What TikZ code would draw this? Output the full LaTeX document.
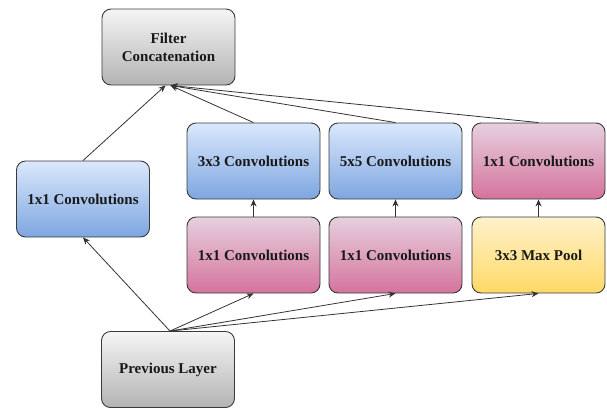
\documentclass[tikz,border=0pt]{standalone}
\usepackage{fontspec}
\setmainfont{Liberation Serif}
\usepackage{xcolor}
\usetikzlibrary{positioning,arrows.meta}

\definecolor{greytop}{HTML}{F5F5F5}
\definecolor{greybot}{HTML}{B3B3B3}
\definecolor{bluetop}{HTML}{DAE8FC}
\definecolor{bluebot}{HTML}{7EA6E0}
\definecolor{pinktop}{HTML}{E6D0DE}
\definecolor{pinkbot}{HTML}{D5739D}
\definecolor{yellowtop}{HTML}{FFF2CC}
\definecolor{yellowbot}{HTML}{FFD966}
\definecolor{edgegrey}{HTML}{3A3A3A}

\tikzset{
  layer/.style={draw=edgegrey, line width=0.9pt, rounded corners=9pt,
    minimum width=133pt, minimum height=76pt, align=center,
    font=\fontsize{15}{18}\selectfont\bfseries, text=black!90},
  greylayer/.style={layer, top color=greytop, bottom color=greybot},
  bluelayer/.style={layer, top color=bluetop, bottom color=bluebot},
  pinklayer/.style={layer, top color=pinktop, bottom color=pinkbot},
  poollayer/.style={layer, top color=yellowtop, bottom color=yellowbot},
  link/.style={-{Stealth[length=7pt,width=6pt]}, line width=0.8pt, draw=black!80}
}

\begin{document}
\begin{tikzpicture}[x=1pt, y=-1pt]
	\useasboundingbox (0,0) rectangle (607,408);

	% output and input
	\node[greylayer] (concat) at (168.5,47) {Filter\\Concatenation};
	\node[greylayer] (prev) at (168,369.5) {Previous Layer};

	% branch one
	\node[bluelayer] (convA) at (83,199) {1x1 Convolutions};

	% upper row
	\node[bluelayer] (convB) at (253.5,161) {3x3 Convolutions};
	\node[bluelayer] (convC) at (395.5,161) {5x5 Convolutions};
	\node[pinklayer] (convD) at (538.5,161) {1x1 Convolutions};

	% lower row
	\node[pinklayer] (redB) at (253.5,255) {1x1 Convolutions};
	\node[pinklayer] (redC) at (395.5,255) {1x1 Convolutions};
	\node[poollayer] (pool) at (538.5,255) {3x3 Max Pool};

	\draw[link] ([xshift=2pt]prev.north) -- (convA.south);
	\draw[link] ([xshift=2pt]prev.north) -- (redB.south);
	\draw[link] ([xshift=2pt]prev.north) -- (redC.south);
	\draw[link] ([xshift=2pt]prev.north) -- (pool.south);

	\draw[link] (redB) -- (convB);
	\draw[link] (redC) -- (convC);
	\draw[link] (pool) -- (convD);

	\draw[link] (convA.north) -- ([xshift=-3pt]concat.south);
	\draw[link] (convB.north) -- ([xshift=2pt]concat.south);
	\draw[link] (convC.north) -- ([xshift=2pt]concat.south);
	\draw[link] (convD.north) -- ([xshift=2pt]concat.south);
\end{tikzpicture}
\end{document}
